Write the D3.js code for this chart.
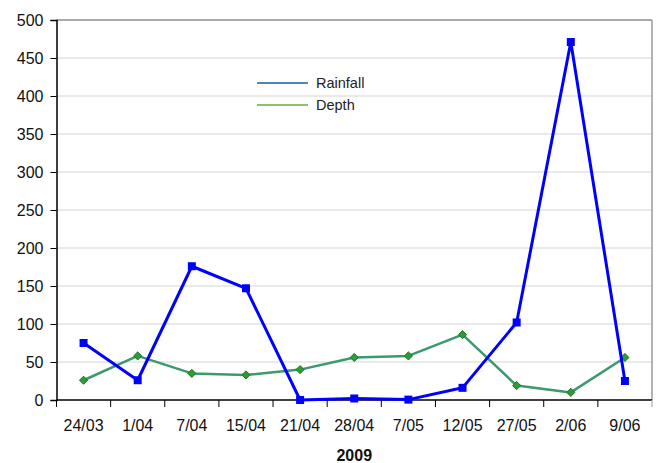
<!DOCTYPE html>
<html>
<head>
<meta charset="utf-8">
<script src="https://cdn.jsdelivr.net/npm/d3@7"></script>
<style>
  body { margin: 0; background: #fff; }
  svg { display: block; font-family: "Liberation Sans", Arial, Helvetica, sans-serif; }
</style>
</head>
<body>
<svg id="chart" width="662" height="463"></svg>
<script>
// Sampling dates (2009)
const dates = ["24/03", "1/04", "7/04", "15/04", "21/04", "28/04", "7/05", "12/05", "27/05", "2/06", "9/06"];
// Rainfall per sampling interval
const rainfall = [75, 26, 176, 147, 0, 2, 0.5, 16, 102, 471, 25];
// Measured depth
const depth = [26, 58, 35, 33, 40, 56, 58, 86, 19, 10, 56];
const yTicks = [0, 50, 100, 150, 200, 250, 300, 350, 400, 450, 500];
const seriesNames = ["Rainfall", "Depth"];

const svg = d3.select("#chart");
const m = { left: 56.5, right: 652, top: 20, bottom: 400 };

const x = d3.scaleBand().domain(dates).range([m.left, m.right]).paddingInner(0).paddingOuter(0);
const y = d3.scaleLinear().domain([0, 500]).range([m.bottom, m.top]);
const cx = d => x(d) + x.bandwidth() / 2;

// Horizontal gridlines
svg.append("g").selectAll("line").data(yTicks.filter(t => t > 0 && t < 500)).join("line")
  .attr("x1", m.left).attr("x2", m.right)
  .attr("y1", d => y(d)).attr("y2", d => y(d))
  .attr("stroke", "#d4d4d4").attr("stroke-width", 1);

// Plot frame top and right
svg.append("line").attr("x1", m.left).attr("x2", m.right).attr("y1", y(500)).attr("y2", y(500))
  .attr("stroke", "#8c8c8c").attr("stroke-width", 1.5);
svg.append("line").attr("x1", m.right).attr("x2", m.right).attr("y1", m.top).attr("y2", m.bottom)
  .attr("stroke", "#9a9a9a").attr("stroke-width", 1.5);

// Y axis
const yAxis = svg.append("g").attr("transform", `translate(${m.left},0)`)
  .call(d3.axisLeft(y).tickValues(yTicks).tickSize(6).tickPadding(7));
yAxis.select(".domain").attr("stroke", "#000").attr("stroke-width", 1.5);
yAxis.selectAll(".tick line").attr("stroke", "#000");
yAxis.selectAll("text").attr("font-size", 16).attr("fill", "#111")
  .attr("font-family", "'Liberation Sans', Arial, sans-serif");

// X axis with ticks on band boundaries
const xAxis = svg.append("g").attr("transform", `translate(0,${m.bottom})`);
xAxis.append("line").attr("x1", m.left).attr("x2", m.right).attr("y1", 0).attr("y2", 0)
  .attr("stroke", "#000").attr("stroke-width", 1.5);
const bounds = dates.map(d => x(d)).concat([m.right]);
xAxis.selectAll("line.tk").data(bounds).join("line").attr("class", "tk")
  .attr("x1", d => d).attr("x2", d => d).attr("y1", 0).attr("y2", 7)
  .attr("stroke", d => d === m.right ? "#9a9a9a" : "#000").attr("stroke-width", 1);
xAxis.selectAll("text").data(dates).join("text")
  .attr("x", d => cx(d)).attr("y", 31)
  .attr("text-anchor", "middle").attr("font-size", 16).attr("fill", "#111")
  .text(d => d);

// Axis title
svg.append("text").attr("x", (m.left + m.right) / 2).attr("y", 461)
  .attr("text-anchor", "middle").attr("font-size", 16).attr("font-weight", "bold")
  .attr("fill", "#111").text("2009");

// Depth series
const depthLine = d3.line().x((d, i) => cx(dates[i])).y(d => y(d));
svg.append("path").datum(depth).attr("d", depthLine)
  .attr("fill", "none").attr("stroke", "#3a9a6e").attr("stroke-width", 2.5)
  .attr("stroke-linejoin", "round");
svg.append("g").selectAll("path").data(depth).join("path")
  .attr("d", d3.symbol().type(d3.symbolDiamond2 || d3.symbolDiamond).size(42))
  .attr("transform", (d, i) => `translate(${cx(dates[i])},${y(d)})`)
  .attr("fill", "#2e9a3c").attr("stroke", "#1b7a1b").attr("stroke-width", 1);

// Rainfall series
const rainLine = d3.line().x((d, i) => cx(dates[i])).y(d => y(d));
svg.append("path").datum(rainfall).attr("d", rainLine)
  .attr("fill", "none").attr("stroke", "#0000ff").attr("stroke-width", 3)
  .attr("stroke-linejoin", "round");
svg.append("g").selectAll("rect").data(rainfall).join("rect")
  .attr("x", (d, i) => cx(dates[i]) - 4).attr("y", d => y(d) - 4)
  .attr("width", 8).attr("height", 8).attr("fill", "#0000ff");

// Legend
const legendColors = ["#165e9e", "#6aab3c"];
const lg = svg.append("g");
seriesNames.forEach((name, i) => {
  const ly = 83 + i * 22;
  lg.append("line").attr("x1", 257).attr("x2", 308).attr("y1", ly).attr("y2", ly)
    .attr("stroke", legendColors[i]).attr("stroke-width", 1.5);
  lg.append("text").attr("x", 316).attr("y", ly + 5).attr("font-size", 14.5)
    .attr("fill", "#222").text(name);
});
</script>
</body>
</html>
